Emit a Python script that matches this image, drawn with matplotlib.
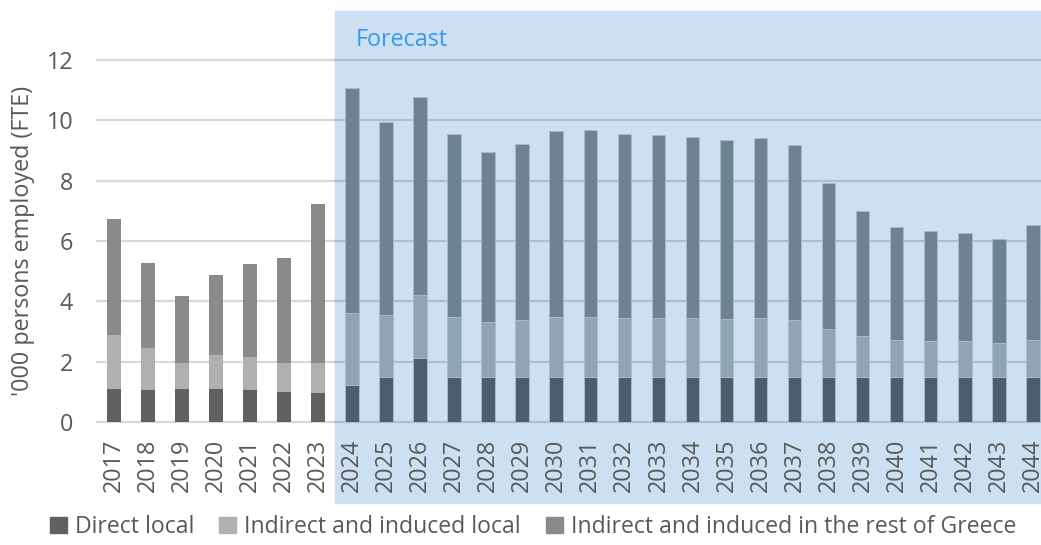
import numpy as np
import matplotlib.pyplot as plt
from matplotlib.patches import Rectangle, Patch

plt.rcParams['font.family'] = ['Open Sans', 'DejaVu Sans']

years = [str(y) for y in range(2017, 2045)]
direct_local = [1.09, 1.06, 1.09, 1.09, 1.06, 1.01, 0.97,
                1.23, 1.49, 2.12, 1.5, 1.5, 1.5, 1.5, 1.5, 1.5, 1.5, 1.5,
                1.5, 1.5, 1.5, 1.5, 1.5, 1.5, 1.5, 1.5, 1.5, 1.5]
local_top = [2.88, 2.45, 1.97, 2.22, 2.14, 1.97, 1.97,
             3.61, 3.55, 4.21, 3.47, 3.31, 3.38, 3.48, 3.48, 3.45, 3.45, 3.44,
             3.41, 3.44, 3.38, 3.07, 2.85, 2.72, 2.68, 2.67, 2.62, 2.73]
total = [6.72, 5.26, 4.19, 4.86, 5.24, 5.44, 7.22,
         11.06, 9.94, 10.76, 9.55, 8.94, 9.21, 9.63, 9.68, 9.55, 9.51, 9.44,
         9.35, 9.41, 9.19, 7.92, 6.99, 6.46, 6.34, 6.27, 6.07, 6.53]
first_forecast = years.index('2024')

direct_local = np.array(direct_local)
indirect_local = np.array(local_top) - direct_local
indirect_rest = np.array(total) - np.array(local_top)

W, H = 1041, 545
FS = 16.8
fig = plt.figure(figsize=(W / 100, H / 100), dpi=100)
# axes placed in pixel terms: x from 96.8 to 1049.8, y from 60 (12) to 422 (0)
ax = fig.add_axes([96.8 / W, 1 - 422 / H, 953 / W, 362 / H])

x = np.arange(len(years))
hist = x < first_forecast
fc = ~hist

grey = ['#606060', '#b0b0b0', '#8a8a8a']
blue = ['#4b5e70', '#8fa4b4', '#6d8292']
bw = 0.4

for mask, cols, edge in [(hist, grey, 'none'), (fc, blue, '#a9bccc')]:
    ax.bar(x[mask], direct_local[mask], bw, color=cols[0], edgecolor=edge, lw=0.6, zorder=3)
    ax.bar(x[mask], indirect_local[mask], bw, bottom=direct_local[mask],
           color=cols[1], edgecolor=edge, lw=0.6, zorder=3)
    ax.bar(x[mask], indirect_rest[mask], bw, bottom=np.array(local_top)[mask],
           color=cols[2], edgecolor=edge, lw=0.6, zorder=3)

ax.set_xlim(-0.5, len(years) - 0.5)
ax.set_ylim(0, 12)
ax.set_yticks(range(0, 13, 2))
ax.set_xticks(x)
ax.set_xticklabels(years, rotation=90)

# grid: grey before forecast, bluish inside the shaded part
split = first_forecast - 0.5
for yv in range(0, 13, 2):
    ax.plot([-0.5, split], [yv, yv], color='#d9d9d9', lw=1.6, zorder=1, clip_on=False)
    ax.plot([split, len(years) - 0.5], [yv, yv], color='#adc0d1', lw=1.6, zorder=1, clip_on=False)

# forecast shading, reaches over the tick labels
x0 = 334.8 / W
ax.add_patch(Rectangle((x0, 1 - 502.5 / H), 1 - x0, (502.5 - 11) / H,
                       transform=fig.transFigure, color='#cce0f1', zorder=0.5, clip_on=False))
fig.text(356 / W, 1 - 40 / H, 'Forecast', color='#3a97ee', fontsize=FS, va='center', ha='left')

for s in ax.spines.values():
    s.set_visible(False)
ax.patch.set_alpha(0)
ax.tick_params(length=0, labelsize=FS, colors='#595959')
ax.tick_params(axis='x', pad=12)
ax.tick_params(axis='y', pad=17)
ax.set_ylabel("'000 persons employed (FTE)", fontsize=FS, color='#595959', labelpad=8)

handles = [Patch(color=c) for c in grey]
labels = ['Direct local', 'Indirect and induced local', 'Indirect and induced in the rest of Greece']
fig.legend(handles, labels, ncol=3, loc='center left', bbox_to_anchor=(50 / W, 1 - 527 / H),
           frameon=False, fontsize=16.6, labelcolor='#595959', handlelength=0.72, handleheight=0.72,
           handletextpad=0.35, columnspacing=1.1, borderpad=0, borderaxespad=0)

fig.savefig('out.png', dpi=100)
